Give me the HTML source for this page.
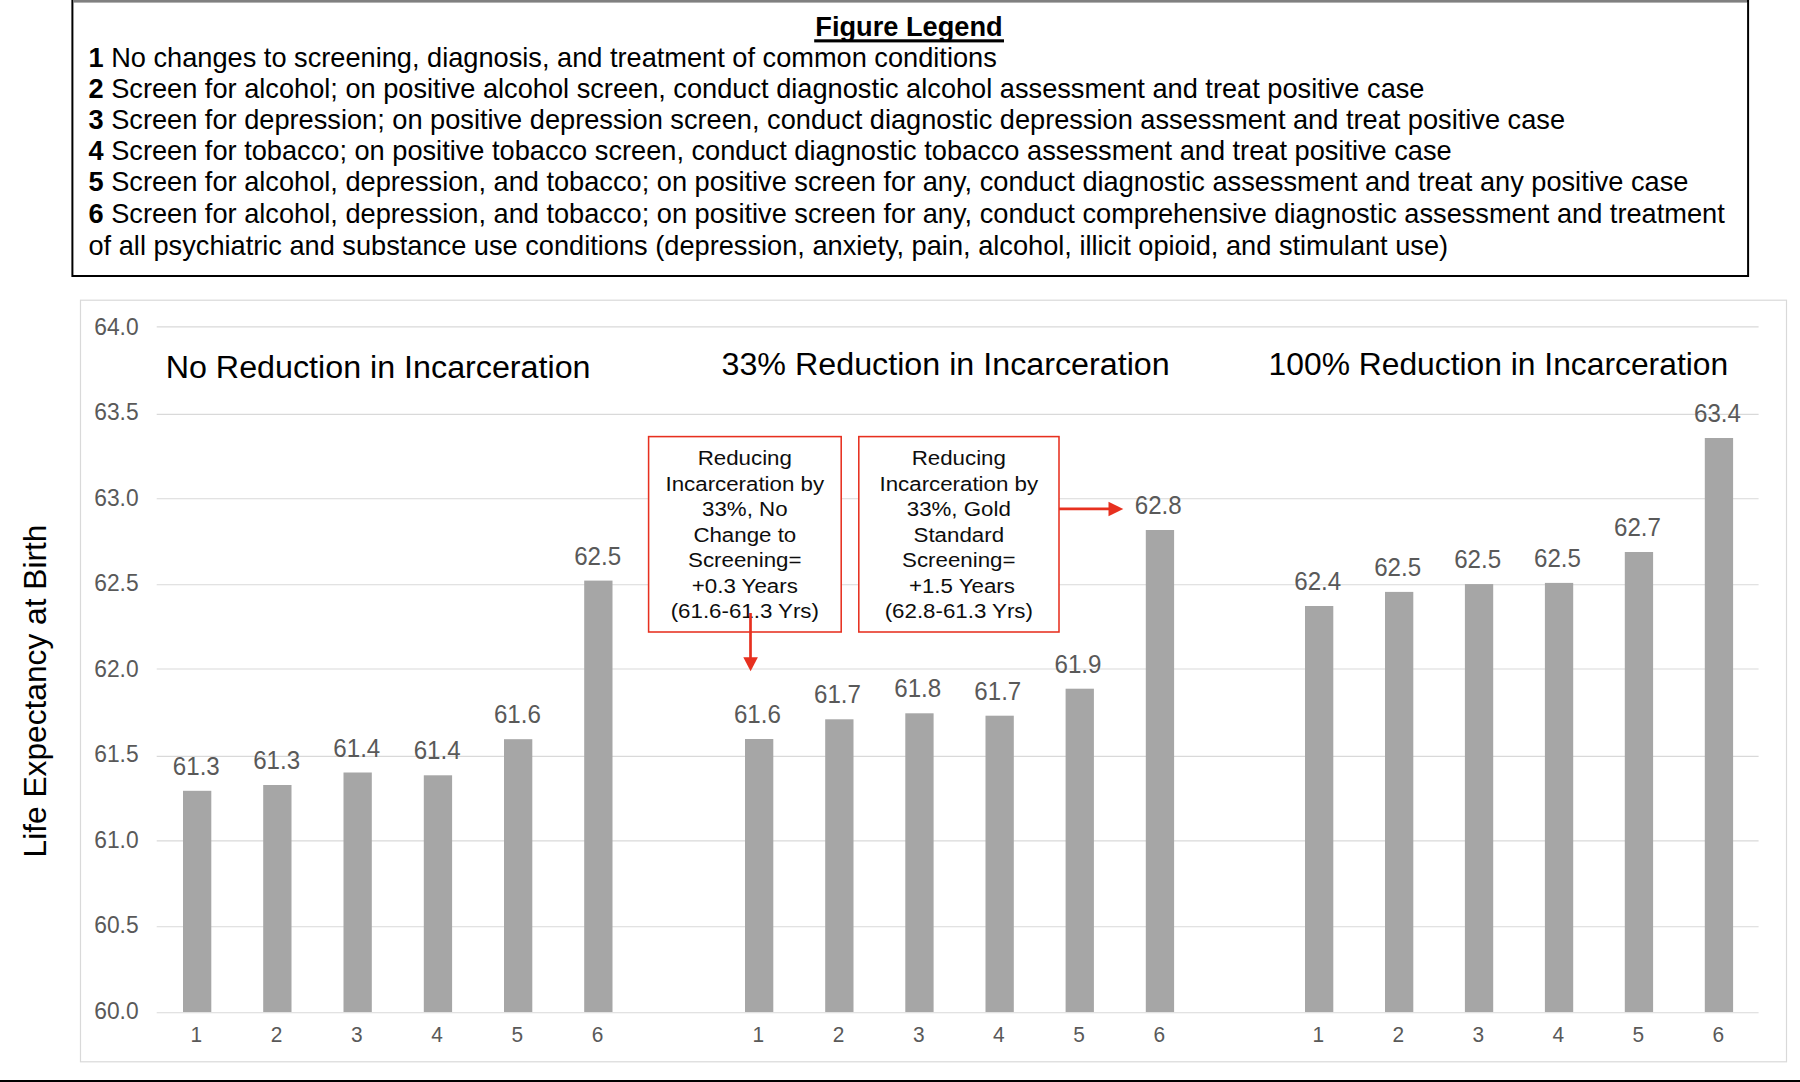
<!DOCTYPE html>
<html><head><meta charset="utf-8"><title>Figure</title>
<style>
html,body{margin:0;padding:0;background:#fff;}
body{width:1800px;height:1082px;overflow:hidden;position:relative;font-family:"Liberation Sans",Arial,sans-serif;}
svg{position:absolute;left:0;top:0;display:block;}
svg text{font-family:"Liberation Sans",Arial,sans-serif;}
.ax{fill:#595959;}
.ann{fill:#0d0d0d;}
</style></head><body>
<svg width="1800" height="1082" viewBox="0 0 1800 1082">

<rect x="72.4" y="1" width="1675.7" height="275" fill="#fff" stroke="#000" stroke-width="2"/>
<rect x="73" y="0" width="1674" height="2.6" fill="#808080"/>
<rect x="0" y="1080" width="1800" height="2" fill="#000"/>
<text x="909" y="35.5" font-size="27.2" font-weight="bold" text-anchor="middle" fill="#000">Figure Legend</text>
<rect x="814.2" y="39.3" width="189.8" height="3.1" fill="#000"/>
<text id="leg0" x="88.5" y="66.8" font-size="27.2" fill="#000"><tspan font-weight="bold">1</tspan> No changes to screening, diagnosis, and treatment of common conditions</text>
<text id="leg1" x="88.5" y="98.2" font-size="27.2" fill="#000"><tspan font-weight="bold">2</tspan> Screen for alcohol; on positive alcohol screen, conduct diagnostic alcohol assessment and treat positive case</text>
<text id="leg2" x="88.5" y="128.8" font-size="27.2" fill="#000"><tspan font-weight="bold">3</tspan> Screen for depression; on positive depression screen, conduct diagnostic depression assessment and treat positive case</text>
<text id="leg3" x="88.5" y="160.0" font-size="27.2" fill="#000"><tspan font-weight="bold">4</tspan> Screen for tobacco; on positive tobacco screen, conduct diagnostic tobacco assessment and treat positive case</text>
<text id="leg4" x="88.5" y="191.0" font-size="27.2" fill="#000"><tspan font-weight="bold">5</tspan> Screen for alcohol, depression, and tobacco; on positive screen for any, conduct diagnostic assessment and treat any positive case</text>
<text id="leg5" x="88.5" y="222.9" font-size="27.2" fill="#000"><tspan font-weight="bold">6</tspan> Screen for alcohol, depression, and tobacco; on positive screen for any, conduct comprehensive diagnostic assessment and treatment</text>
<text id="leg6" x="88.5" y="254.7" font-size="27.2" fill="#000">of all psychiatric and substance use conditions (depression, anxiety, pain, alcohol, illicit opioid, and stimulant use)</text>
<rect x="80.5" y="300.2" width="1706" height="761.6" fill="#fff" stroke="#d9d9d9" stroke-width="1.2"/>
<line x1="156.7" x2="1758.6" y1="1012.7" y2="1012.7" stroke="#d9d9d9" stroke-width="1.1"/>
<text class="ax" transform="translate(138.6,1018.9) scale(0.962,1)" font-size="23.7" text-anchor="end">60.0</text>
<line x1="156.7" x2="1758.6" y1="926.8" y2="926.8" stroke="#d9d9d9" stroke-width="1.1"/>
<text class="ax" transform="translate(138.6,933.4) scale(0.962,1)" font-size="23.7" text-anchor="end">60.5</text>
<line x1="156.7" x2="1758.6" y1="840.9" y2="840.9" stroke="#d9d9d9" stroke-width="1.1"/>
<text class="ax" transform="translate(138.6,847.9) scale(0.962,1)" font-size="23.7" text-anchor="end">61.0</text>
<line x1="156.7" x2="1758.6" y1="756.4" y2="756.4" stroke="#d9d9d9" stroke-width="1.1"/>
<text class="ax" transform="translate(138.6,762.3) scale(0.962,1)" font-size="23.7" text-anchor="end">61.5</text>
<line x1="156.7" x2="1758.6" y1="669.0" y2="669.0" stroke="#d9d9d9" stroke-width="1.1"/>
<text class="ax" transform="translate(138.6,676.8) scale(0.962,1)" font-size="23.7" text-anchor="end">62.0</text>
<line x1="156.7" x2="1758.6" y1="584.7" y2="584.7" stroke="#d9d9d9" stroke-width="1.1"/>
<text class="ax" transform="translate(138.6,591.3) scale(0.962,1)" font-size="23.7" text-anchor="end">62.5</text>
<line x1="156.7" x2="1758.6" y1="498.8" y2="498.8" stroke="#d9d9d9" stroke-width="1.1"/>
<text class="ax" transform="translate(138.6,505.8) scale(0.962,1)" font-size="23.7" text-anchor="end">63.0</text>
<line x1="156.7" x2="1758.6" y1="414.4" y2="414.4" stroke="#d9d9d9" stroke-width="1.1"/>
<text class="ax" transform="translate(138.6,420.2) scale(0.962,1)" font-size="23.7" text-anchor="end">63.5</text>
<line x1="156.7" x2="1758.6" y1="326.9" y2="326.9" stroke="#d9d9d9" stroke-width="1.1"/>
<text class="ax" transform="translate(138.6,334.7) scale(0.962,1)" font-size="23.7" text-anchor="end">64.0</text>
<rect x="183.0" y="790.8" width="28.3" height="221.2" fill="#a6a6a6"/>
<text class="ax" transform="translate(196.3,774.9) scale(0.965,1)" font-size="25" text-anchor="middle">61.3</text>
<text class="ax" transform="translate(196.3,1041.8) scale(0.95,1)" font-size="22" text-anchor="middle">1</text>
<rect x="263.2" y="785.0" width="28.3" height="227.0" fill="#a6a6a6"/>
<text class="ax" transform="translate(276.6,769.1) scale(0.965,1)" font-size="25" text-anchor="middle">61.3</text>
<text class="ax" transform="translate(276.6,1041.8) scale(0.95,1)" font-size="22" text-anchor="middle">2</text>
<rect x="343.5" y="772.5" width="28.3" height="239.5" fill="#a6a6a6"/>
<text class="ax" transform="translate(356.8,756.6) scale(0.965,1)" font-size="25" text-anchor="middle">61.4</text>
<text class="ax" transform="translate(356.8,1041.8) scale(0.95,1)" font-size="22" text-anchor="middle">3</text>
<rect x="423.8" y="775.3" width="28.3" height="236.7" fill="#a6a6a6"/>
<text class="ax" transform="translate(437.1,759.4) scale(0.965,1)" font-size="25" text-anchor="middle">61.4</text>
<text class="ax" transform="translate(437.1,1041.8) scale(0.95,1)" font-size="22" text-anchor="middle">4</text>
<rect x="504.0" y="739.2" width="28.3" height="272.8" fill="#a6a6a6"/>
<text class="ax" transform="translate(517.4,723.3) scale(0.965,1)" font-size="25" text-anchor="middle">61.6</text>
<text class="ax" transform="translate(517.4,1041.8) scale(0.95,1)" font-size="22" text-anchor="middle">5</text>
<rect x="584.2" y="580.6" width="28.3" height="431.4" fill="#a6a6a6"/>
<text class="ax" transform="translate(597.6,564.7) scale(0.965,1)" font-size="25" text-anchor="middle">62.5</text>
<text class="ax" transform="translate(597.6,1041.8) scale(0.95,1)" font-size="22" text-anchor="middle">6</text>
<rect x="745.0" y="739.0" width="28.3" height="273.0" fill="#a6a6a6"/>
<text class="ax" transform="translate(757.4,723.1) scale(0.965,1)" font-size="25" text-anchor="middle">61.6</text>
<text class="ax" transform="translate(758.4,1041.8) scale(0.95,1)" font-size="22" text-anchor="middle">1</text>
<rect x="825.2" y="719.3" width="28.3" height="292.7" fill="#a6a6a6"/>
<text class="ax" transform="translate(837.5,703.4) scale(0.965,1)" font-size="25" text-anchor="middle">61.7</text>
<text class="ax" transform="translate(838.5,1041.8) scale(0.95,1)" font-size="22" text-anchor="middle">2</text>
<rect x="905.3" y="713.3" width="28.3" height="298.7" fill="#a6a6a6"/>
<text class="ax" transform="translate(917.7,697.4) scale(0.965,1)" font-size="25" text-anchor="middle">61.8</text>
<text class="ax" transform="translate(918.7,1041.8) scale(0.95,1)" font-size="22" text-anchor="middle">3</text>
<rect x="985.5" y="715.7" width="28.3" height="296.3" fill="#a6a6a6"/>
<text class="ax" transform="translate(997.8,699.8) scale(0.965,1)" font-size="25" text-anchor="middle">61.7</text>
<text class="ax" transform="translate(998.8,1041.8) scale(0.95,1)" font-size="22" text-anchor="middle">4</text>
<rect x="1065.6" y="688.7" width="28.3" height="323.3" fill="#a6a6a6"/>
<text class="ax" transform="translate(1078.0,672.8) scale(0.965,1)" font-size="25" text-anchor="middle">61.9</text>
<text class="ax" transform="translate(1079.0,1041.8) scale(0.95,1)" font-size="22" text-anchor="middle">5</text>
<rect x="1145.8" y="530.0" width="28.3" height="482.0" fill="#a6a6a6"/>
<text class="ax" transform="translate(1158.2,514.1) scale(0.965,1)" font-size="25" text-anchor="middle">62.8</text>
<text class="ax" transform="translate(1159.2,1041.8) scale(0.95,1)" font-size="22" text-anchor="middle">6</text>
<rect x="1305.0" y="606.0" width="28.3" height="406.0" fill="#a6a6a6"/>
<text class="ax" transform="translate(1317.7,590.1) scale(0.965,1)" font-size="25" text-anchor="middle">62.4</text>
<text class="ax" transform="translate(1318.4,1041.8) scale(0.95,1)" font-size="22" text-anchor="middle">1</text>
<rect x="1385.0" y="591.9" width="28.3" height="420.1" fill="#a6a6a6"/>
<text class="ax" transform="translate(1397.6,576.0) scale(0.965,1)" font-size="25" text-anchor="middle">62.5</text>
<text class="ax" transform="translate(1398.3,1041.8) scale(0.95,1)" font-size="22" text-anchor="middle">2</text>
<rect x="1464.9" y="584.1" width="28.3" height="427.9" fill="#a6a6a6"/>
<text class="ax" transform="translate(1477.6,568.2) scale(0.965,1)" font-size="25" text-anchor="middle">62.5</text>
<text class="ax" transform="translate(1478.3,1041.8) scale(0.95,1)" font-size="22" text-anchor="middle">3</text>
<rect x="1544.9" y="582.9" width="28.3" height="429.1" fill="#a6a6a6"/>
<text class="ax" transform="translate(1557.5,567.0) scale(0.965,1)" font-size="25" text-anchor="middle">62.5</text>
<text class="ax" transform="translate(1558.2,1041.8) scale(0.95,1)" font-size="22" text-anchor="middle">4</text>
<rect x="1624.8" y="552.0" width="28.3" height="460.0" fill="#a6a6a6"/>
<text class="ax" transform="translate(1637.5,536.1) scale(0.965,1)" font-size="25" text-anchor="middle">62.7</text>
<text class="ax" transform="translate(1638.2,1041.8) scale(0.95,1)" font-size="22" text-anchor="middle">5</text>
<rect x="1704.8" y="438.0" width="28.3" height="574.0" fill="#a6a6a6"/>
<text class="ax" transform="translate(1717.5,422.1) scale(0.965,1)" font-size="25" text-anchor="middle">63.4</text>
<text class="ax" transform="translate(1718.2,1041.8) scale(0.95,1)" font-size="22" text-anchor="middle">6</text>
<text id="t1" x="165.7" y="377.6" font-size="32.25" fill="#000">No Reduction in Incarceration</text>
<text id="t2" x="721.5" y="375" font-size="32.25" fill="#000">33% Reduction in Incarceration</text>
<text id="t3" x="1268.6" y="374.6" font-size="31.8" fill="#000">100% Reduction in Incarceration</text>
<text id="yt" transform="translate(46.3,691) rotate(-90)" font-size="31.7" text-anchor="middle" fill="#000">Life Expectancy at Birth</text>
<rect x="648.6" y="436.6" width="192.6" height="195.4" fill="#fff" stroke="#e7301f" stroke-width="1.55"/>
<rect x="858.8" y="436.6" width="200.2" height="195.4" fill="#fff" stroke="#e7301f" stroke-width="1.55"/>
<text class="ann" transform="translate(744.8,465.3) scale(1.115,1)" font-size="20" text-anchor="middle">Reducing</text>
<text class="ann" transform="translate(744.8,490.8) scale(1.115,1)" font-size="20" text-anchor="middle">Incarceration by</text>
<text class="ann" transform="translate(744.8,516.2) scale(1.115,1)" font-size="20" text-anchor="middle">33%, No</text>
<text class="ann" transform="translate(744.8,541.6) scale(1.115,1)" font-size="20" text-anchor="middle">Change to</text>
<text class="ann" transform="translate(744.8,567.1) scale(1.115,1)" font-size="20" text-anchor="middle">Screening=</text>
<text class="ann" transform="translate(744.8,592.5) scale(1.115,1)" font-size="20" text-anchor="middle">+0.3 Years</text>
<text class="ann" transform="translate(744.8,618.0) scale(1.115,1)" font-size="20" text-anchor="middle">(61.6-61.3 Yrs)</text>
<text class="ann" transform="translate(958.8,465.3) scale(1.115,1)" font-size="20" text-anchor="middle">Reducing</text>
<text class="ann" transform="translate(958.8,490.8) scale(1.115,1)" font-size="20" text-anchor="middle">Incarceration by</text>
<text class="ann" transform="translate(958.8,516.2) scale(1.115,1)" font-size="20" text-anchor="middle">33%, Gold</text>
<text class="ann" transform="translate(958.8,541.6) scale(1.115,1)" font-size="20" text-anchor="middle">Standard</text>
<text class="ann" transform="translate(958.8,567.1) scale(1.115,1)" font-size="20" text-anchor="middle">Screening=</text>
<text class="ann" transform="translate(958.8,592.5) scale(1.115,1)" font-size="20" text-anchor="middle"> +1.5 Years</text>
<text class="ann" transform="translate(958.8,618.0) scale(1.115,1)" font-size="20" text-anchor="middle">(62.8-61.3 Yrs)</text>
<line x1="750.5" y1="613" x2="750.5" y2="660" stroke="#e7301f" stroke-width="2.7"/>
<polygon points="743.3,657.2 757.9,657.2 750.6,671.3" fill="#e7301f"/>
<line x1="1059" y1="508.9" x2="1111" y2="508.9" stroke="#e7301f" stroke-width="2.7"/>
<polygon points="1108.5,501.8 1108.5,516.2 1123.3,508.9" fill="#e7301f"/>
</svg></body></html>
